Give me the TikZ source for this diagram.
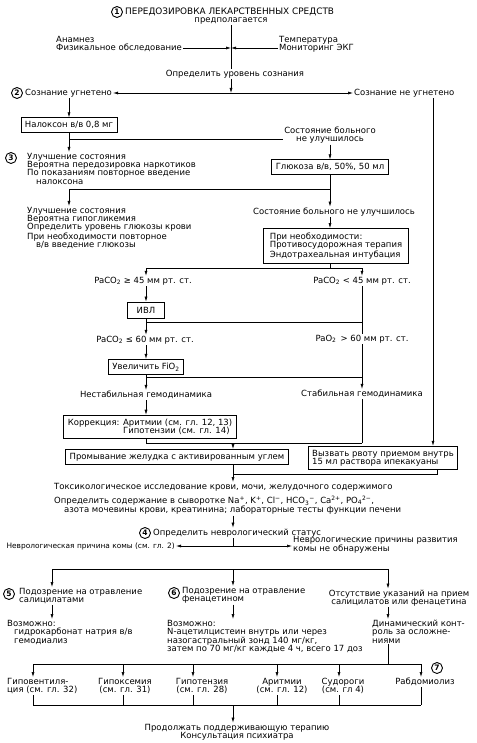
\documentclass[tikz,border=0pt]{standalone}
\usepackage{fontspec}
\setmainfont{DejaVu Sans}
\usetikzlibrary{arrows.meta,positioning}

\begin{document}
\begin{tikzpicture}[x=1pt, y=-1pt,
    every node/.style={font=\fontsize{8.5}{8.3}\selectfont, inner sep=1pt},
    txt/.style={align=left},
    ctxt/.style={align=center},
    box/.style={draw, line width=0.8pt, inner xsep=4pt, inner ysep=3.6pt, align=left},
    numc/.style={circle, draw, line width=0.9pt, inner sep=0pt, minimum size=11pt,
        font=\fontsize{7.5}{7.5}\selectfont\bfseries},
    ln/.style={line width=0.6pt},
    arr/.style={line width=0.6pt, -{Latex[length=5pt,width=3pt]}}]
    \useasboundingbox (0,0) rectangle (476,743);

    % Начало
    \node[numc] (n1) at (117,12) {1};
    \node[anchor=west, font=\fontsize{8.9}{8.9}\selectfont] (title) at (124,12) {ПЕРЕДОЗИРОВКА ЛЕКАРСТВЕННЫХ СРЕДСТВ};
    \node (suspect) at (231,21) {предполагается};
    \node[txt, anchor=west] (anam) at (55,44) {Анамнез\\Физикальное обследование};
    \node[txt, anchor=west] (temp) at (278,44) {Температура\\Мониторинг ЭКГ};
    \node (level) at (235,74) {Определить уровень сознания};
    \coordinate (hit) at (231,48);
    \coordinate (j1) at (231,93);
    \draw[ln] (suspect.south) -- (suspect.south |- level.north);
    \draw[arr] ([yshift=-4pt]anam.east) -- (hit);
    \draw[arr] ([yshift=-4pt]temp.west) -- (hit);
    \draw[arr] (level.south -| j1) -- (j1);

    % Уровень сознания
    \node[numc] (n2) at (17,93) {2};
    \node[anchor=west] (dep) at (24,93) {Сознание угнетено};
    \node[anchor=west] (nodep) at (353,93) {Сознание не угнетено};
    \draw[arr] (j1) -- (dep.east);
    \draw[arr] (j1) -- (nodep.west);

    % Налоксон
    \node[box] (nalox) at (69,125) {Налоксон в/в 0,8 мг};
    \draw[arr] (dep.south -| nalox) -- (nalox.north);
    \node[ctxt] (nimp1) at (330,135) {Состояние больного\\не улучшилось};
    \coordinate (j2) at (69,139);
    \draw[ln] (nalox.south) -- (j2) -- (j2 -| nimp1.west);
    \node[numc] (n3) at (11,158) {3};
    \node[txt, anchor=north west] (imp1) at (26,152) {Улучшение состояния\\Вероятна передозировка наркотиков\\По показаниям повторное введение\\\hspace{9pt}налоксона};
    \draw[arr] (j2) -- (j2 |- imp1.north);

    % Глюкоза
    \node[box] (gluc) at (330,167) {Глюкоза в/в, 50\%, 50 мл};
    \draw[arr] (nimp1.south) -- (gluc.north);
    \coordinate (j3) at (330,189);
    \coordinate (j3l) at (69,189);
    \draw[ln] (gluc.south) -- (j3) -- (j3l);
    \node[txt, anchor=north west] (imp2) at (26,206) {Улучшение состояния\\Вероятна гипогликемия\\Определить уровень глюкозы крови\\При необходимости повторное\\\hspace{9pt}в/в введение глюкозы};
    \node (nimp2) at (334,212) {Состояние больного не улучшилось};
    \draw[arr] (j3l) -- (j3l |- imp2.north);
    \draw[arr] (j3) -- (j3 |- nimp2.north);
    \node[box, inner xsep=6pt, inner ysep=4.5pt] (need) at (336,246) {При необходимости:\\Противосудорожная терапия\\Эндотрахеальная интубация};
    \draw[arr] (nimp2.south -| j3) -- (j3 |- need.north);

    % Газы крови
    \coordinate (j4) at (330,268);
    \coordinate (j4l) at (146,268);
    \coordinate (j4r) at (362,268);
    \draw[ln] (need.south -| j4) -- (j4);
    \draw[ln] (j4l) -- (j4r);
    \node (pa1) at (143,281) {PaCO\textsubscript{2} ≥ 45 мм рт. ст.};
    \node (pa2) at (362,281) {PaCO\textsubscript{2} < 45 мм рт. ст.};
    \draw[arr] (j4l) -- (j4l |- pa1.north);
    \draw[arr] (j4r) -- (pa2.north);
    \node[box, minimum width=37pt, minimum height=16pt] (ivl) at (146,310) {ИВЛ};
    \draw[arr] (pa1.south -| ivl) -- (ivl.north);
    \node (pa3) at (362,339) {PaO\textsubscript{2} \,> 60 мм рт. ст.};
    \draw[ln] (pa2.south) -- (pa3.north);
    \coordinate (j5) at (146,322);
    \draw[ln] (ivl.south) -- (j5) -- (j5 -| pa2);
    \node (pa4) at (145,340) {PaCO\textsubscript{2} ≤ 60 мм рт. ст.};
    \draw[arr] (j5) -- (j5 |- pa4.north);
    \node[box] (fio) at (146,367) {Увеличить FiO\textsubscript{2}};
    \draw[arr] (pa4.south -| fio) -- (fio.north);

    % Гемодинамика
    \coordinate (j6) at (146,377);
    \node (unst) at (146,395) {Нестабильная гемодинамика};
    \node (stab) at (362,394) {Стабильная гемодинамика};
    \draw[ln] (fio.south) -- (j6) -- (j6 -| stab);
    \draw[arr] (pa3.south) -- (stab.north);
    \draw[arr] (j6) -- (unst.north);
    \node[box] (corr) at (150,427) {Коррекция: Аритмии (см. гл. 12, 13)\\\phantom{Коррекция: }Гипотензии (см. гл. 14)};
    \draw[arr] (unst.south) -- (unst.south |- corr.north);
    \coordinate (j7) at (146,443);
    \coordinate (j8) at (233,443);
    \draw[ln] (corr.south -| j7) -- (j7) -- (j7 -| stab);
    \draw[ln] (stab.south) -- (stab.south |- j7);

    % Промывание желудка и рвота
    \node[box] (wash) at (177,457) {Промывание желудка с активированным углем};
    \draw[arr] (j8) -- (j8 |- wash.north);
    \node[box] (vomit) at (383,458) {Вызвать рвоту приемом внутрь\\15 мл раствора ипекакуаны};
    \coordinate (rline) at (433,0);
    \draw[arr] (nodep.south -| rline) -- (vomit.north -| rline);
    \coordinate (j9) at (233,474);
    \coordinate (vb) at (437,474);
    \draw[ln] (wash.south -| j9) -- (j9);
    \draw[ln] (vomit.south -| vb) -- (vb) -- (j9);

    % Исследования
    \node[txt, anchor=north west] (tox) at (53,482) {Токсикологическое исследование крови, мочи, желудочного содержимого\\[4pt]Определить содержание в сыворотке Na\textsuperscript{+}, K\textsuperscript{+}, Cl\textsuperscript{−}, HCO\textsubscript{3}\textsuperscript{−}, Ca\textsuperscript{2+}, PO\textsubscript{4}\textsuperscript{2−},\\\hspace{10pt}азота мочевины крови, креатинина; лабораторные тесты функции печени};
    \draw[arr] (j9) -- (j9 |- tox.north);

    % Неврологический статус
    \node[numc] (n4) at (145,533) {4};
    \node[anchor=west] (neuro) at (152,533) {Определить неврологический статус};
    \draw[arr] (tox.south -| j9) -- (neuro.north -| j9);
    \coordinate (j10) at (233,546);
    \node[anchor=east, font=\fontsize{7.4}{8.3}\selectfont] (ncause) at (176,546) {Неврологическая причина комы (см. гл. 2)};
    \node[txt, anchor=west] (nnot) at (292,545) {Неврологические причины развития\\комы не обнаружены};
    \draw[ln] (neuro.south -| j10) -- (j10);
    \draw[arr] (j10) -- (ncause.east);
    \draw[arr] (j10) -- (j10 -| nnot.west);

    % Подозрения
    \coordinate (s1) at (52,569);
    \coordinate (s2) at (233,569);
    \coordinate (s3) at (388,569);
    \draw[ln] (s1) -- (s3);
    \node[numc] (n5) at (9,594) {5};
    \node[txt, anchor=north west] (sal) at (18,587) {Подозрение на отравление\\салицилатами};
    \node[numc] (n6) at (174,593) {6};
    \node[txt, anchor=north west] (phen) at (181,586) {Подозрение на отравление\\фенацетином};
    \node[ctxt] (none) at (399,598) {Отсутствие указаний на прием\\салицилатов или фенацетина};
    \draw[arr] (s1) -- (s1 |- sal.north);
    \draw[arr] (s2) -- (s2 |- phen.north);
    \draw[arr] (s3) -- (s3 |- none.north);
    \node[txt, anchor=north west] (salp) at (6,619) {Возможно:\\\hspace{7pt}гидрокарбонат натрия в/в\\\hspace{7pt}гемодиализ};
    \node[txt, anchor=north west] (phenp) at (166,619) {Возможно:\\N-ацетилцистеин внутрь или через\\назогастральный зонд 140 мг/кг,\\затем по 70 мг/кг каждые 4 ч, всего 17 доз};
    \node[txt, anchor=north west] (ctrl) at (371,619) {Динамический конт-\\роль за осложне-\\ниями};
    \draw[arr] (sal.south -| s1) -- (salp.north -| s1);
    \draw[arr] (phen.south -| s2) -- (phenp.north -| s2);
    \draw[arr] (none.south -| s3) -- (ctrl.north -| s3);

    % Осложнения
    \node[numc] (n7) at (437,668) {7};
    \coordinate (j11) at (388,664);
    \coordinate (h1) at (33,664);
    \coordinate (h2) at (421,664);
    \draw[ln] (ctrl.south -| j11) -- (j11);
    \draw[ln] (h1) -- (h2);
    \node[txt, anchor=north west] (c1) at (6,677) {Гиповентиля-\\ция (см. гл. 32)};
    \node[ctxt, anchor=north] (c2) at (125,677) {Гипоксемия\\(см. гл. 31)};
    \node[ctxt, anchor=north] (c3) at (202,677) {Гипотензия\\(см. гл. 28)};
    \node[ctxt, anchor=north] (c4) at (282,677) {Аритмии\\(см. гл. 12)};
    \node[ctxt, anchor=north] (c5) at (343,677) {Судороги\\(см. гл 4)};
    \node[anchor=north] (c6) at (425,677) {Рабдомиолиз};
    \coordinate (b1) at (33,705);
    \coordinate (b2) at (421,705);
    \draw[ln] (b1) -- (b2);
    \foreach \c/\x in {c1/33, c2/123, c3/193, c4/277, c5/339, c6/421} {
        \coordinate (t\c) at (\x,664);
        \draw[arr] (t\c) -- (t\c |- \c.north);
        \draw[ln] (t\c |- \c.south) -- (t\c |- b1);
    }

    % Итог
    \coordinate (j12) at (233,705);
    \node[ctxt] (fin) at (237,732) {Продолжать поддерживающую терапию\\Консультация психиатра};
    \draw[arr] (j12) -- (j12 |- fin.north);
\end{tikzpicture}
\end{document}
